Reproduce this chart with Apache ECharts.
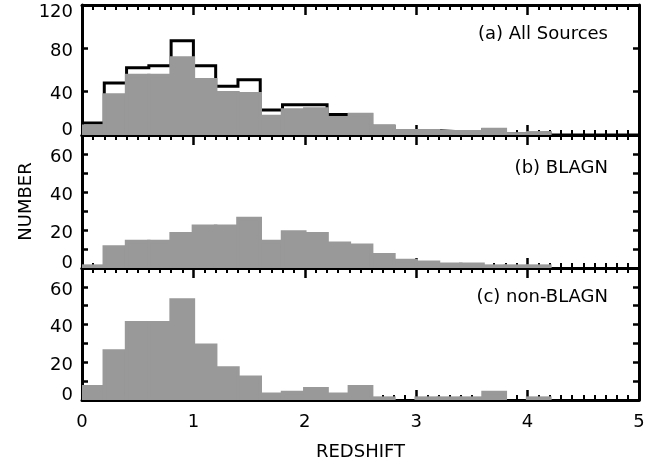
<!DOCTYPE html>
<html><head><meta charset="utf-8">
<script src="https://cdn.jsdelivr.net/npm/echarts@6/dist/echarts.min.js"></script>
<style>html,body{margin:0;padding:0;background:#fff}#c{width:657px;height:467px}</style>
</head><body><div id="c"></div>
<script>
const binEdges = [0.0,0.2,0.4,0.6,0.8,1.0,1.2,1.4,1.6,1.8,2.0,2.2,2.4,2.6,2.8,3.0,3.2,3.4,3.6,3.8,4.0,4.2,4.4,4.6,4.8,5.0];
const allSourcesTotal = [11,48,62,64,87,64,45,51,23,28,28,19,19,8,4,4,3,3,5,1,2,0,0,0,0];
const allSourcesSpec  = [8,37,55,55,71,51,39,38,17,23,24,16,19,8,4,4,3,3,5,1,2,0,0,0,0];
const blagn           = [1,11,14,14,18,22,22,26,14,19,18,13,12,7,4,3,2,2,1,1,1,0,0,0,0];
const nonBlagn        = [7,26,41,41,53,29,17,12,3,4,6,3,7,1,0,1,1,1,4,0,1,0,0,0,0];
const xTickLabels = [0,1,2,3,4,5];
const yLabelsA = [0,40,80,120];
const yLabelsBC = [0,20,40,60];
const panelTitles = ['(a) All Sources','(b) BLAGN','(c) non-BLAGN'];
const xTitle = 'REDSHIFT';
const yTitle = 'NUMBER';

const FONT = 'DejaVu Sans';
const GRAY = '#999999';
const grids = [
  {left:82, right:18, top:5, height:130},
  {left:82, right:18, top:135, height:133},
  {left:82, right:18, top:268, height:132}
];
const yRanges = [[0,120,40],[0,70,10],[0,70,10]];

const rich = {
  n:{fontFamily:FONT,fontSize:18,color:'#000',padding:[6,0,0,0]},
  z:{fontFamily:FONT,fontSize:18,color:'#000',padding:[0,0,10,0]},
  t:{fontFamily:FONT,fontSize:18,color:'#000',padding:[15,0,0,0]}
};

const xAxes = [], yAxes = [];
grids.forEach((g, i) => {
  ['bottom','top'].forEach(pos => {
    xAxes.push({
      type:'value', gridIndex:i, position:pos, min:0, max:5, interval:1,
      axisLine:{show:true, onZero:false, lineStyle:{color:'#000', width:3}},
      axisTick:{show:true, inside:true, length:10, lineStyle:{color:'#000', width:2.5}},
      minorTick:{show:true, splitNumber:10, length:5, lineStyle:{color:'#000', width:2}},
      splitLine:{show:false}, minorSplitLine:{show:false},
      axisLabel:{show: (i===2 && pos==='bottom'), margin:13, fontFamily:FONT, fontSize:18, color:'#000',
        formatter: v => xTickLabels.includes(v) ? String(v) : ''},
      name: (i===2 && pos==='bottom') ? xTitle : '',
      nameLocation:'middle', nameGap:43,
      nameTextStyle:{fontFamily:FONT, fontSize:18, color:'#000'}
    });
  });
  const [mn, mx, iv] = yRanges[i];
  const labs = i===0 ? yLabelsA : yLabelsBC;
  ['left','right'].forEach(pos => {
    yAxes.push({
      type:'value', gridIndex:i, position:pos, min:mn, max:mx, interval:iv,
      axisLine:{show:true, onZero:false, lineStyle:{color:'#000', width:3}},
      axisTick:{show:true, inside:true, length:6, lineStyle:{color:'#000', width:2.5}},
      splitLine:{show:false},
      axisLabel:{show: pos==='left', margin:9, fontFamily:FONT, fontSize:18, color:'#000', rich: rich,
        showMinLabel:true, showMaxLabel:true,
        formatter: v => {
          if (!labs.includes(v)) return '';
          if (v === 0) return '{z|0}';
          if (v === 120) return '{t|120}';
          return '{n|' + v + '}';
        }},
      name: (i===1 && pos==='left') ? yTitle : '',
      nameLocation:'middle', nameGap:47, nameRotate:90,
      nameTextStyle:{fontFamily:FONT, fontSize:18, color:'#000'}
    });
  });
});

function histSeries(panel, values) {
  return {
    type:'custom', xAxisIndex: panel*2, yAxisIndex: panel*2, z:3, clip:true,
    data: values.map((v, i) => [binEdges[i], binEdges[i+1], v]).filter(d => d[2] > 0),
    encode:{x:[0,1], y:2},
    renderItem: (params, api) => {
      const p0 = api.coord([api.value(0), api.value(2)]);
      const p1 = api.coord([api.value(1), 0]);
      return {type:'rect', shape:{x:p0[0], y:p0[1], width:p1[0]-p0[0], height:p1[1]-p0[1]},
        style:{fill:GRAY, stroke:GRAY, lineWidth:3.5}};
    }
  };
}

const outlineData = allSourcesTotal.map((v, i) => [binEdges[i], v]);
outlineData.push([binEdges[binEdges.length-1], allSourcesTotal[allSourcesTotal.length-1]]);

const option = {
  backgroundColor:'#fff',
  animation:false,
  grid: grids,
  xAxis: xAxes,
  yAxis: yAxes,
  title: panelTitles.map((t, i) => ({
    text:t, right:49, top:[25,159,288][i], padding:0,
    textStyle:{fontFamily:FONT, fontSize:18, fontWeight:'normal', color:'#000'}
  })),
  series: [
    {type:'line', xAxisIndex:0, yAxisIndex:0, step:'end', data:outlineData, showSymbol:false, z:2,
      lineStyle:{color:'#000', width:3, join:'miter'}, clip:true},
    histSeries(0, allSourcesSpec),
    histSeries(1, blagn),
    histSeries(2, nonBlagn)
  ]
};
const chart = echarts.init(document.getElementById('c'), null, {renderer:'canvas'});
chart.setOption(option);
</script>
</body></html>
